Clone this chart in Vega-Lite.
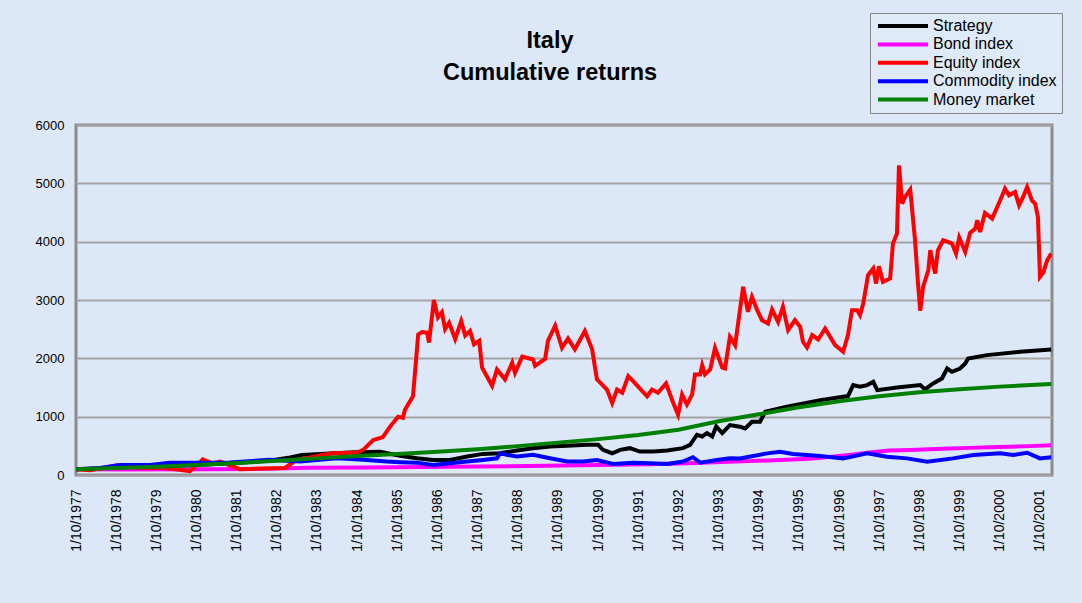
{
  "$schema": "https://vega.github.io/schema/vega-lite/v6.json",
  "width": 976,
  "height": 350,
  "autosize": {"type": "none"},
  "padding": {"left": 76, "top": 125, "right": 30, "bottom": 128},
  "background": "#dce8f7",
  "title": {
    "text": ["Italy", "Cumulative returns"],
    "font": "Liberation Sans",
    "fontSize": 23.5,
    "fontWeight": "bold",
    "color": "#000000",
    "lineHeight": 32,
    "anchor": "middle",
    "frame": "group",
    "dx": -14,
    "offset": -72
  },
  "config": {
    "view": {"stroke": "#8c8c8c", "strokeWidth": 3},
    "axis": {"labelFont": "Liberation Sans", "labelColor": "#000000", "titleFont": "Liberation Sans"},
    "legend": {
      "orient": "none",
      "legendX": 794,
      "legendY": -112,
      "labelFont": "Liberation Sans",
      "labelFontSize": 16,
      "labelColor": "#000000",
      "symbolType": "M-1,0L9,0",
      "symbolSize": 100,
      "symbolStrokeWidth": 4,
      "labelOffset": 42,
      "padding": 5,
      "rowPadding": 2.4,
      "strokeColor": "#888888",
      "fillColor": "#dfeaf8"
    }
  },
  "datasets": {
    "series": [
      {"s":"Strategy","t":1977.75,"v":100},{"s":"Strategy","t":1978.5,"v":115},{"s":"Strategy","t":1979.5,"v":135},{"s":"Strategy","t":1980.0,"v":150},{"s":"Strategy","t":1981.0,"v":180},{"s":"Strategy","t":1982.0,"v":220},{"s":"Strategy","t":1982.6,"v":250},{"s":"Strategy","t":1983.08,"v":300},{"s":"Strategy","t":1983.38,"v":345},{"s":"Strategy","t":1984.07,"v":370},{"s":"Strategy","t":1984.7,"v":390},{"s":"Strategy","t":1985.32,"v":400},{"s":"Strategy","t":1985.82,"v":330},{"s":"Strategy","t":1986.24,"v":287},{"s":"Strategy","t":1986.64,"v":259},{"s":"Strategy","t":1987.06,"v":259},{"s":"Strategy","t":1987.49,"v":316},{"s":"Strategy","t":1987.88,"v":362},{"s":"Strategy","t":1988.31,"v":373},{"s":"Strategy","t":1988.73,"v":420},{"s":"Strategy","t":1989.13,"v":460},{"s":"Strategy","t":1989.55,"v":488},{"s":"Strategy","t":1989.98,"v":500},{"s":"Strategy","t":1990.47,"v":517},{"s":"Strategy","t":1990.75,"v":517},{"s":"Strategy","t":1990.87,"v":431},{"s":"Strategy","t":1991.1,"v":373},{"s":"Strategy","t":1991.3,"v":431},{"s":"Strategy","t":1991.54,"v":460},{"s":"Strategy","t":1991.79,"v":402},{"s":"Strategy","t":1992.12,"v":402},{"s":"Strategy","t":1992.47,"v":420},{"s":"Strategy","t":1992.86,"v":460},{"s":"Strategy","t":1993.04,"v":517},{"s":"Strategy","t":1993.21,"v":690},{"s":"Strategy","t":1993.34,"v":661},{"s":"Strategy","t":1993.46,"v":718},{"s":"Strategy","t":1993.59,"v":661},{"s":"Strategy","t":1993.69,"v":833},{"s":"Strategy","t":1993.84,"v":718},{"s":"Strategy","t":1994.03,"v":856},{"s":"Strategy","t":1994.28,"v":828},{"s":"Strategy","t":1994.41,"v":799},{"s":"Strategy","t":1994.58,"v":913},{"s":"Strategy","t":1994.78,"v":913},{"s":"Strategy","t":1994.91,"v":1084},{"s":"Strategy","t":1995.45,"v":1170},{"s":"Strategy","t":1996.28,"v":1284},{"s":"Strategy","t":1996.97,"v":1353},{"s":"Strategy","t":1997.1,"v":1541},{"s":"Strategy","t":1997.27,"v":1512},{"s":"Strategy","t":1997.45,"v":1541},{"s":"Strategy","t":1997.6,"v":1598},{"s":"Strategy","t":1997.7,"v":1455},{"s":"Strategy","t":1998.19,"v":1501},{"s":"Strategy","t":1998.77,"v":1541},{"s":"Strategy","t":1998.89,"v":1467},{"s":"Strategy","t":1999.09,"v":1570},{"s":"Strategy","t":1999.31,"v":1655},{"s":"Strategy","t":1999.44,"v":1826},{"s":"Strategy","t":1999.56,"v":1769},{"s":"Strategy","t":1999.76,"v":1826},{"s":"Strategy","t":1999.89,"v":1912},{"s":"Strategy","t":1999.96,"v":1998},{"s":"Strategy","t":2000.43,"v":2055},{"s":"Strategy","t":2001.26,"v":2112},{"s":"Strategy","t":2002.03,"v":2152},
      {"s":"Bond index","t":1977.75,"v":100},{"s":"Bond index","t":1979.0,"v":95},{"s":"Bond index","t":1981.0,"v":100},{"s":"Bond index","t":1982.5,"v":105},{"s":"Bond index","t":1983.5,"v":125},{"s":"Bond index","t":1985.0,"v":130},{"s":"Bond index","t":1987.0,"v":140},{"s":"Bond index","t":1989.0,"v":155},{"s":"Bond index","t":1990.75,"v":170},{"s":"Bond index","t":1992.0,"v":185},{"s":"Bond index","t":1993.0,"v":200},{"s":"Bond index","t":1994.0,"v":225},{"s":"Bond index","t":1995.0,"v":250},{"s":"Bond index","t":1996.0,"v":280},{"s":"Bond index","t":1996.5,"v":310},{"s":"Bond index","t":1997.0,"v":345},{"s":"Bond index","t":1997.5,"v":385},{"s":"Bond index","t":1998.0,"v":420},{"s":"Bond index","t":1998.5,"v":430},{"s":"Bond index","t":1999.0,"v":440},{"s":"Bond index","t":1999.5,"v":455},{"s":"Bond index","t":2000.0,"v":465},{"s":"Bond index","t":2000.5,"v":475},{"s":"Bond index","t":2001.0,"v":485},{"s":"Bond index","t":2001.5,"v":495},{"s":"Bond index","t":2002.03,"v":510},
      {"s":"Equity index","t":1977.75,"v":100},{"s":"Equity index","t":1978.1,"v":80},{"s":"Equity index","t":1978.77,"v":165},{"s":"Equity index","t":1979.34,"v":120},{"s":"Equity index","t":1979.97,"v":120},{"s":"Equity index","t":1980.59,"v":65},{"s":"Equity index","t":1980.91,"v":270},{"s":"Equity index","t":1981.14,"v":200},{"s":"Equity index","t":1981.34,"v":230},{"s":"Equity index","t":1981.83,"v":100},{"s":"Equity index","t":1982.33,"v":110},{"s":"Equity index","t":1982.95,"v":120},{"s":"Equity index","t":1983.25,"v":260},{"s":"Equity index","t":1983.58,"v":300},{"s":"Equity index","t":1984.07,"v":370},{"s":"Equity index","t":1984.75,"v":385},{"s":"Equity index","t":1984.9,"v":430},{"s":"Equity index","t":1985.15,"v":600},{"s":"Equity index","t":1985.39,"v":650},{"s":"Equity index","t":1985.57,"v":830},{"s":"Equity index","t":1985.77,"v":1000},{"s":"Equity index","t":1985.89,"v":980},{"s":"Equity index","t":1985.94,"v":1120},{"s":"Equity index","t":1986.14,"v":1350},{"s":"Equity index","t":1986.27,"v":2410},{"s":"Equity index","t":1986.37,"v":2450},{"s":"Equity index","t":1986.49,"v":2440},{"s":"Equity index","t":1986.54,"v":2270},{"s":"Equity index","t":1986.66,"v":3000},{"s":"Equity index","t":1986.76,"v":2700},{"s":"Equity index","t":1986.86,"v":2790},{"s":"Equity index","t":1986.94,"v":2500},{"s":"Equity index","t":1987.04,"v":2610},{"s":"Equity index","t":1987.19,"v":2330},{"s":"Equity index","t":1987.34,"v":2640},{"s":"Equity index","t":1987.44,"v":2390},{"s":"Equity index","t":1987.56,"v":2470},{"s":"Equity index","t":1987.66,"v":2240},{"s":"Equity index","t":1987.79,"v":2300},{"s":"Equity index","t":1987.86,"v":1840},{"s":"Equity index","t":1988.11,"v":1530},{"s":"Equity index","t":1988.23,"v":1810},{"s":"Equity index","t":1988.43,"v":1640},{"s":"Equity index","t":1988.61,"v":1925},{"s":"Equity index","t":1988.68,"v":1750},{"s":"Equity index","t":1988.86,"v":2030},{"s":"Equity index","t":1989.13,"v":1980},{"s":"Equity index","t":1989.18,"v":1870},{"s":"Equity index","t":1989.43,"v":1990},{"s":"Equity index","t":1989.5,"v":2300},{"s":"Equity index","t":1989.68,"v":2560},{"s":"Equity index","t":1989.85,"v":2180},{"s":"Equity index","t":1990.0,"v":2340},{"s":"Equity index","t":1990.17,"v":2155},{"s":"Equity index","t":1990.42,"v":2470},{"s":"Equity index","t":1990.6,"v":2155},{"s":"Equity index","t":1990.72,"v":1640},{"s":"Equity index","t":1990.85,"v":1550},{"s":"Equity index","t":1990.97,"v":1465},{"s":"Equity index","t":1991.1,"v":1235},{"s":"Equity index","t":1991.22,"v":1465},{"s":"Equity index","t":1991.35,"v":1410},{"s":"Equity index","t":1991.5,"v":1695},{"s":"Equity index","t":1991.62,"v":1610},{"s":"Equity index","t":1991.97,"v":1350},{"s":"Equity index","t":1992.09,"v":1465},{"s":"Equity index","t":1992.24,"v":1410},{"s":"Equity index","t":1992.44,"v":1570},{"s":"Equity index","t":1992.62,"v":1235},{"s":"Equity index","t":1992.74,"v":1035},{"s":"Equity index","t":1992.84,"v":1380},{"s":"Equity index","t":1992.96,"v":1207},{"s":"Equity index","t":1993.09,"v":1380},{"s":"Equity index","t":1993.16,"v":1725},{"s":"Equity index","t":1993.29,"v":1725},{"s":"Equity index","t":1993.34,"v":1880},{"s":"Equity index","t":1993.41,"v":1725},{"s":"Equity index","t":1993.54,"v":1810},{"s":"Equity index","t":1993.66,"v":2180},{"s":"Equity index","t":1993.84,"v":1840},{"s":"Equity index","t":1993.91,"v":1826},{"s":"Equity index","t":1994.03,"v":2369},{"s":"Equity index","t":1994.16,"v":2226},{"s":"Equity index","t":1994.36,"v":3225},{"s":"Equity index","t":1994.48,"v":2797},{"s":"Equity index","t":1994.58,"v":3054},{"s":"Equity index","t":1994.71,"v":2825},{"s":"Equity index","t":1994.83,"v":2654},{"s":"Equity index","t":1994.98,"v":2597},{"s":"Equity index","t":1995.08,"v":2837},{"s":"Equity index","t":1995.23,"v":2626},{"s":"Equity index","t":1995.35,"v":2882},{"s":"Equity index","t":1995.48,"v":2483},{"s":"Equity index","t":1995.65,"v":2654},{"s":"Equity index","t":1995.78,"v":2540},{"s":"Equity index","t":1995.85,"v":2283},{"s":"Equity index","t":1995.95,"v":2186},{"s":"Equity index","t":1996.08,"v":2397},{"s":"Equity index","t":1996.23,"v":2323},{"s":"Equity index","t":1996.4,"v":2511},{"s":"Equity index","t":1996.65,"v":2226},{"s":"Equity index","t":1996.85,"v":2112},{"s":"Equity index","t":1996.97,"v":2397},{"s":"Equity index","t":1997.07,"v":2825},{"s":"Equity index","t":1997.2,"v":2825},{"s":"Equity index","t":1997.27,"v":2740},{"s":"Equity index","t":1997.35,"v":2940},{"s":"Equity index","t":1997.47,"v":3425},{"s":"Equity index","t":1997.6,"v":3539},{"s":"Equity index","t":1997.67,"v":3282},{"s":"Equity index","t":1997.74,"v":3579},{"s":"Equity index","t":1997.84,"v":3311},{"s":"Equity index","t":1998.02,"v":3368},{"s":"Equity index","t":1998.09,"v":3967},{"s":"Equity index","t":1998.19,"v":4138},{"s":"Equity index","t":1998.24,"v":5308},{"s":"Equity index","t":1998.32,"v":4652},{"s":"Equity index","t":1998.39,"v":4766},{"s":"Equity index","t":1998.52,"v":4892},{"s":"Equity index","t":1998.64,"v":4024},{"s":"Equity index","t":1998.72,"v":3225},{"s":"Equity index","t":1998.77,"v":2814},{"s":"Equity index","t":1998.84,"v":3225},{"s":"Equity index","t":1998.97,"v":3510},{"s":"Equity index","t":1999.02,"v":3853},{"s":"Equity index","t":1999.14,"v":3453},{"s":"Equity index","t":1999.21,"v":3853},{"s":"Equity index","t":1999.34,"v":4024},{"s":"Equity index","t":1999.46,"v":3995},{"s":"Equity index","t":1999.56,"v":3967},{"s":"Equity index","t":1999.66,"v":3796},{"s":"Equity index","t":1999.74,"v":4070},{"s":"Equity index","t":1999.89,"v":3824},{"s":"Equity index","t":2000.01,"v":4150},{"s":"Equity index","t":2000.14,"v":4224},{"s":"Equity index","t":2000.19,"v":4367},{"s":"Equity index","t":2000.26,"v":4167},{"s":"Equity index","t":2000.38,"v":4492},{"s":"Equity index","t":2000.56,"v":4395},{"s":"Equity index","t":2000.76,"v":4709},{"s":"Equity index","t":2000.88,"v":4909},{"s":"Equity index","t":2000.98,"v":4795},{"s":"Equity index","t":2001.13,"v":4852},{"s":"Equity index","t":2001.23,"v":4623},{"s":"Equity index","t":2001.33,"v":4766},{"s":"Equity index","t":2001.43,"v":4937},{"s":"Equity index","t":2001.55,"v":4709},{"s":"Equity index","t":2001.63,"v":4652},{"s":"Equity index","t":2001.7,"v":4424},{"s":"Equity index","t":2001.75,"v":3396},{"s":"Equity index","t":2001.83,"v":3465},{"s":"Equity index","t":2001.93,"v":3681},{"s":"Equity index","t":2002.03,"v":3796},
      {"s":"Commodity index","t":1977.75,"v":100},{"s":"Commodity index","t":1978.35,"v":120},{"s":"Commodity index","t":1978.85,"v":170},{"s":"Commodity index","t":1979.59,"v":170},{"s":"Commodity index","t":1980.09,"v":210},{"s":"Commodity index","t":1980.84,"v":210},{"s":"Commodity index","t":1981.58,"v":215},{"s":"Commodity index","t":1982.58,"v":260},{"s":"Commodity index","t":1983.33,"v":230},{"s":"Commodity index","t":1984.25,"v":287},{"s":"Commodity index","t":1984.9,"v":260},{"s":"Commodity index","t":1985.49,"v":230},{"s":"Commodity index","t":1985.82,"v":220},{"s":"Commodity index","t":1986.24,"v":212},{"s":"Commodity index","t":1986.64,"v":172},{"s":"Commodity index","t":1987.06,"v":200},{"s":"Commodity index","t":1987.49,"v":230},{"s":"Commodity index","t":1987.88,"v":258},{"s":"Commodity index","t":1988.23,"v":287},{"s":"Commodity index","t":1988.31,"v":373},{"s":"Commodity index","t":1988.48,"v":345},{"s":"Commodity index","t":1988.73,"v":316},{"s":"Commodity index","t":1989.13,"v":345},{"s":"Commodity index","t":1989.55,"v":287},{"s":"Commodity index","t":1989.98,"v":230},{"s":"Commodity index","t":1990.37,"v":230},{"s":"Commodity index","t":1990.72,"v":258},{"s":"Commodity index","t":1991.12,"v":190},{"s":"Commodity index","t":1991.62,"v":212},{"s":"Commodity index","t":1992.04,"v":200},{"s":"Commodity index","t":1992.47,"v":190},{"s":"Commodity index","t":1992.86,"v":230},{"s":"Commodity index","t":1993.11,"v":305},{"s":"Commodity index","t":1993.29,"v":212},{"s":"Commodity index","t":1993.71,"v":258},{"s":"Commodity index","t":1994.03,"v":287},{"s":"Commodity index","t":1994.28,"v":285},{"s":"Commodity index","t":1994.96,"v":371},{"s":"Commodity index","t":1995.28,"v":400},{"s":"Commodity index","t":1995.6,"v":360},{"s":"Commodity index","t":1996.28,"v":325},{"s":"Commodity index","t":1996.85,"v":285},{"s":"Commodity index","t":1997.45,"v":371},{"s":"Commodity index","t":1997.94,"v":314},{"s":"Commodity index","t":1998.44,"v":285},{"s":"Commodity index","t":1998.94,"v":228},{"s":"Commodity index","t":1999.59,"v":285},{"s":"Commodity index","t":2000.09,"v":342},{"s":"Commodity index","t":2000.76,"v":371},{"s":"Commodity index","t":2001.08,"v":342},{"s":"Commodity index","t":2001.43,"v":382},{"s":"Commodity index","t":2001.75,"v":285},{"s":"Commodity index","t":2002.03,"v":303},
      {"s":"Money market","t":1977.75,"v":100},{"s":"Money market","t":1978.75,"v":118},{"s":"Money market","t":1979.75,"v":140},{"s":"Money market","t":1980.75,"v":170},{"s":"Money market","t":1981.75,"v":205},{"s":"Money market","t":1982.75,"v":245},{"s":"Money market","t":1983.75,"v":285},{"s":"Money market","t":1984.75,"v":325},{"s":"Money market","t":1985.75,"v":360},{"s":"Money market","t":1986.75,"v":400},{"s":"Money market","t":1987.75,"v":440},{"s":"Money market","t":1988.75,"v":495},{"s":"Money market","t":1989.75,"v":555},{"s":"Money market","t":1990.75,"v":615},{"s":"Money market","t":1991.75,"v":685},{"s":"Money market","t":1992.75,"v":775},{"s":"Money market","t":1993.75,"v":920},{"s":"Money market","t":1994.75,"v":1040},{"s":"Money market","t":1995.75,"v":1160},{"s":"Money market","t":1996.75,"v":1265},{"s":"Money market","t":1997.75,"v":1350},{"s":"Money market","t":1998.75,"v":1420},{"s":"Money market","t":1999.75,"v":1470},{"s":"Money market","t":2000.75,"v":1515},{"s":"Money market","t":2002.03,"v":1558}
    ]
  },
  "data": {"name": "series"},
  "mark": {"type": "line", "strokeWidth": 4, "strokeJoin": "miter", "clip": true},
  "encoding": {
    "x": {
      "field": "t",
      "type": "quantitative",
      "scale": {"domain": [1977.75, 2002.05], "nice": false, "zero": false},
      "axis": {
        "title": null,
        "values": [1977.75,1978.75,1979.75,1980.75,1981.75,1982.75,1983.75,1984.75,1985.75,1986.75,1987.75,1988.75,1989.75,1990.75,1991.75,1992.75,1993.75,1994.75,1995.75,1996.75,1997.75,1998.75,1999.75,2000.75,2001.75],
        "labelExpr": "'1/10/' + floor(datum.value)",
        "labelAngle": -90,
        "labelFontSize": 14,
        "labelPadding": 14,
        "labelOverlap": false,
        "labelFlush": false,
        "grid": false,
        "ticks": false,
        "domain": false
      }
    },
    "y": {
      "field": "v",
      "type": "quantitative",
      "scale": {"domain": [0, 6000], "nice": false},
      "axis": {
        "title": null,
        "values": [0,1000,2000,3000,4000,5000,6000],
        "format": "d",
        "labelFontSize": 13,
        "labelPadding": 12,
        "grid": true,
        "gridColor": "#a3a3a3",
        "gridWidth": 2,
        "gridOpacity": 1,
        "ticks": false,
        "domain": false
      }
    },
    "color": {
      "field": "s",
      "type": "nominal",
      "sort": null,
      "scale": {
        "domain": ["Strategy", "Bond index", "Equity index", "Commodity index", "Money market"],
        "range": ["#000000", "#ff00ff", "#ff0000", "#0000ff", "#008000"]
      },
      "legend": {"title": null}
    }
  }
}
